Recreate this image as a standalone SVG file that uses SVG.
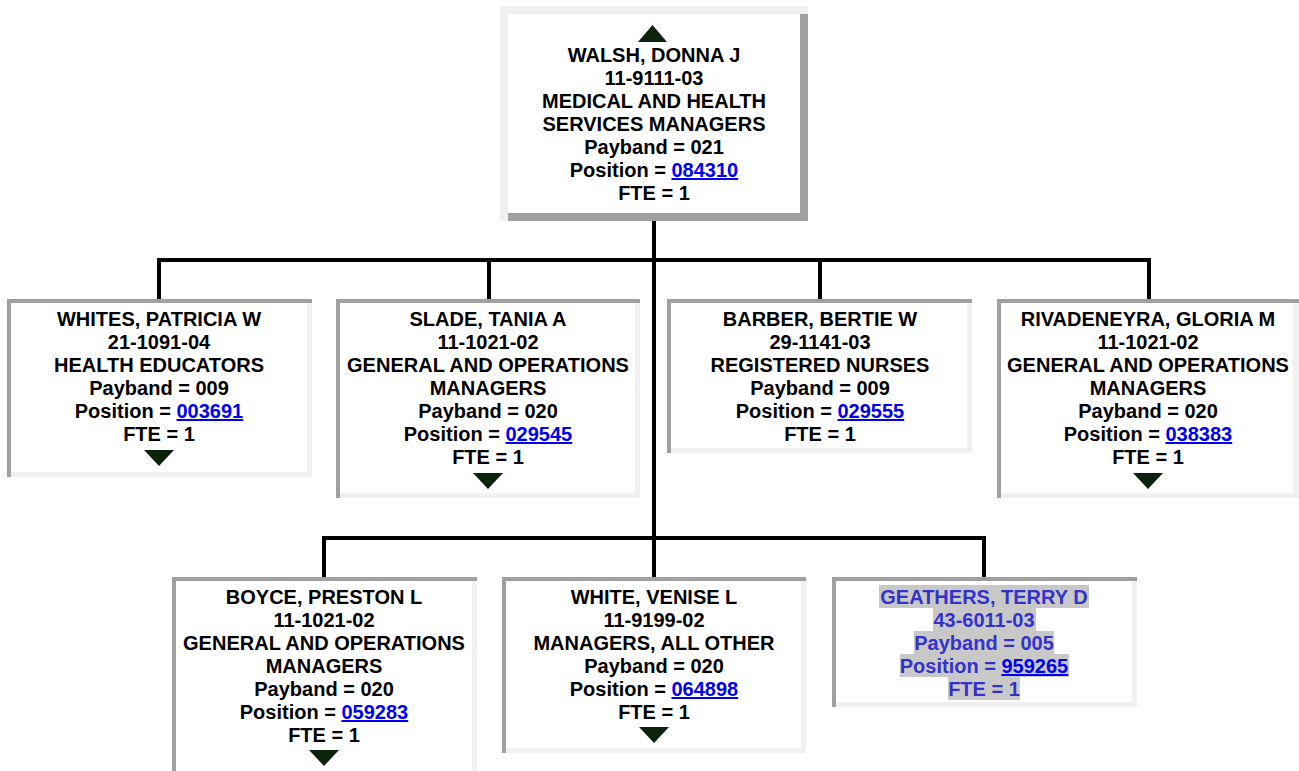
<svg xmlns="http://www.w3.org/2000/svg" width="1299" height="771" viewBox="0 0 1299 771">
<style>
text{font-family:"Liberation Sans",Arial,Helvetica,sans-serif;font-weight:bold;font-size:20px;fill:#000;text-anchor:middle}
.lk{fill:#0000ee;text-decoration:underline}
.sel text{fill:#3333cc}
.sel .lk{fill:#0000ee}
.hl{fill:#c8c8c8}
.light{fill:#f0f0f0}
.dark{fill:#a0a0a0}
.in{fill:#fff}
.tri{fill:#0b230b}
.conn{fill:none;stroke:#000;stroke-width:4;stroke-linecap:square}
</style>
<rect width="1299" height="771" fill="#fff"/>
<g id="connectors">
<path class="conn" d="M654 221 V538 M159 260 H1149 M159 260 V297 M489 260 V297 M820 260 V297 M1149 260 V297 M324 538 H984 M324 538 V575 M654 538 V575 M984 538 V575"/>
</g>
<g id="node-walsh">
<rect class="dark" x="500" y="6" width="308" height="215"/>
<path class="light" d="M500 6 H808 V14 H508 V221 H500 Z"/>
<rect class="in" x="508" y="14" width="292" height="199"/>
<polygon class="tri" points="638,42 667,42 652.5,25"/>
<text x="654" y="62">WALSH, DONNA J</text>
<text x="654" y="85">11-9111-03</text>
<text x="654" y="108">MEDICAL AND HEALTH</text>
<text x="654" y="131">SERVICES MANAGERS</text>
<text x="654" y="154">Payband = 021</text>
<text x="654" y="177">Position = <tspan class="lk">084310</tspan></text>
<text x="654" y="200">FTE = 1</text>
</g>
<g id="node-whites">
<rect class="light" x="7" y="299" width="305" height="178"/>
<path class="dark" d="M7 299 H312 V303 H11 V477 H7 Z"/>
<rect class="in" x="11" y="303" width="296" height="169"/>
<text x="159" y="326">WHITES, PATRICIA W</text>
<text x="159" y="349">21-1091-04</text>
<text x="159" y="372">HEALTH EDUCATORS</text>
<text x="159" y="395">Payband = 009</text>
<text x="159" y="418">Position = <tspan class="lk">003691</tspan></text>
<text x="159" y="441">FTE = 1</text>
<polygon class="tri" points="144,450 174,450 159,466"/>
</g>
<g id="node-slade">
<rect class="light" x="336" y="299" width="304" height="199"/>
<path class="dark" d="M336 299 H640 V303 H340 V498 H336 Z"/>
<rect class="in" x="340" y="303" width="295" height="190"/>
<text x="488" y="326">SLADE, TANIA A</text>
<text x="488" y="349">11-1021-02</text>
<text x="488" y="372">GENERAL AND OPERATIONS</text>
<text x="488" y="395">MANAGERS</text>
<text x="488" y="418">Payband = 020</text>
<text x="488" y="441">Position = <tspan class="lk">029545</tspan></text>
<text x="488" y="464">FTE = 1</text>
<polygon class="tri" points="473,473 503,473 488,489"/>
</g>
<g id="node-barber">
<rect class="light" x="667" y="299" width="305" height="154"/>
<path class="dark" d="M667 299 H972 V303 H671 V453 H667 Z"/>
<rect class="in" x="671" y="303" width="296" height="145"/>
<text x="820" y="326">BARBER, BERTIE W</text>
<text x="820" y="349">29-1141-03</text>
<text x="820" y="372">REGISTERED NURSES</text>
<text x="820" y="395">Payband = 009</text>
<text x="820" y="418">Position = <tspan class="lk">029555</tspan></text>
<text x="820" y="441">FTE = 1</text>
</g>
<g id="node-rivadeneyra">
<rect class="light" x="997" y="299" width="302" height="199"/>
<path class="dark" d="M997 299 H1299 V303 H1001 V498 H997 Z"/>
<rect class="in" x="1001" y="303" width="292" height="190"/>
<text x="1148" y="326">RIVADENEYRA, GLORIA M</text>
<text x="1148" y="349">11-1021-02</text>
<text x="1148" y="372">GENERAL AND OPERATIONS</text>
<text x="1148" y="395">MANAGERS</text>
<text x="1148" y="418">Payband = 020</text>
<text x="1148" y="441">Position = <tspan class="lk">038383</tspan></text>
<text x="1148" y="464">FTE = 1</text>
<polygon class="tri" points="1133,473 1163,473 1148,489"/>
</g>
<g id="node-boyce">
<rect class="light" x="172" y="577" width="305" height="200"/>
<path class="dark" d="M172 577 H477 V581 H176 V777 H172 Z"/>
<rect class="in" x="176" y="581" width="296" height="191"/>
<text x="324" y="604">BOYCE, PRESTON L</text>
<text x="324" y="627">11-1021-02</text>
<text x="324" y="650">GENERAL AND OPERATIONS</text>
<text x="324" y="673">MANAGERS</text>
<text x="324" y="696">Payband = 020</text>
<text x="324" y="719">Position = <tspan class="lk">059283</tspan></text>
<text x="324" y="742">FTE = 1</text>
<polygon class="tri" points="309,750 339,750 324,766"/>
</g>
<g id="node-white">
<rect class="light" x="502" y="577" width="304" height="176"/>
<path class="dark" d="M502 577 H806 V581 H506 V753 H502 Z"/>
<rect class="in" x="506" y="581" width="295" height="167"/>
<text x="654" y="604">WHITE, VENISE L</text>
<text x="654" y="627">11-9199-02</text>
<text x="654" y="650">MANAGERS, ALL OTHER</text>
<text x="654" y="673">Payband = 020</text>
<text x="654" y="696">Position = <tspan class="lk">064898</tspan></text>
<text x="654" y="719">FTE = 1</text>
<polygon class="tri" points="639,727 669,727 654,743"/>
</g>
<g id="node-geathers" class="sel">
<rect class="light" x="832" y="577" width="305" height="130"/>
<path class="dark" d="M832 577 H1137 V581 H836 V707 H832 Z"/>
<rect class="in" x="836" y="581" width="296" height="121"/>
<rect class="hl" x="879" y="585" width="210" height="23"/>
<rect class="hl" x="933" y="608" width="103" height="23"/>
<rect class="hl" x="914" y="631" width="140" height="23"/>
<rect class="hl" x="900" y="654" width="169" height="23"/>
<rect class="hl" x="948" y="677" width="72" height="23"/>
<text x="984" y="604">GEATHERS, TERRY D</text>
<text x="984" y="627">43-6011-03</text>
<text x="984" y="650">Payband = 005</text>
<text x="984" y="673">Position = <tspan class="lk">959265</tspan></text>
<text x="984" y="696">FTE = 1</text>
</g>
</svg>
